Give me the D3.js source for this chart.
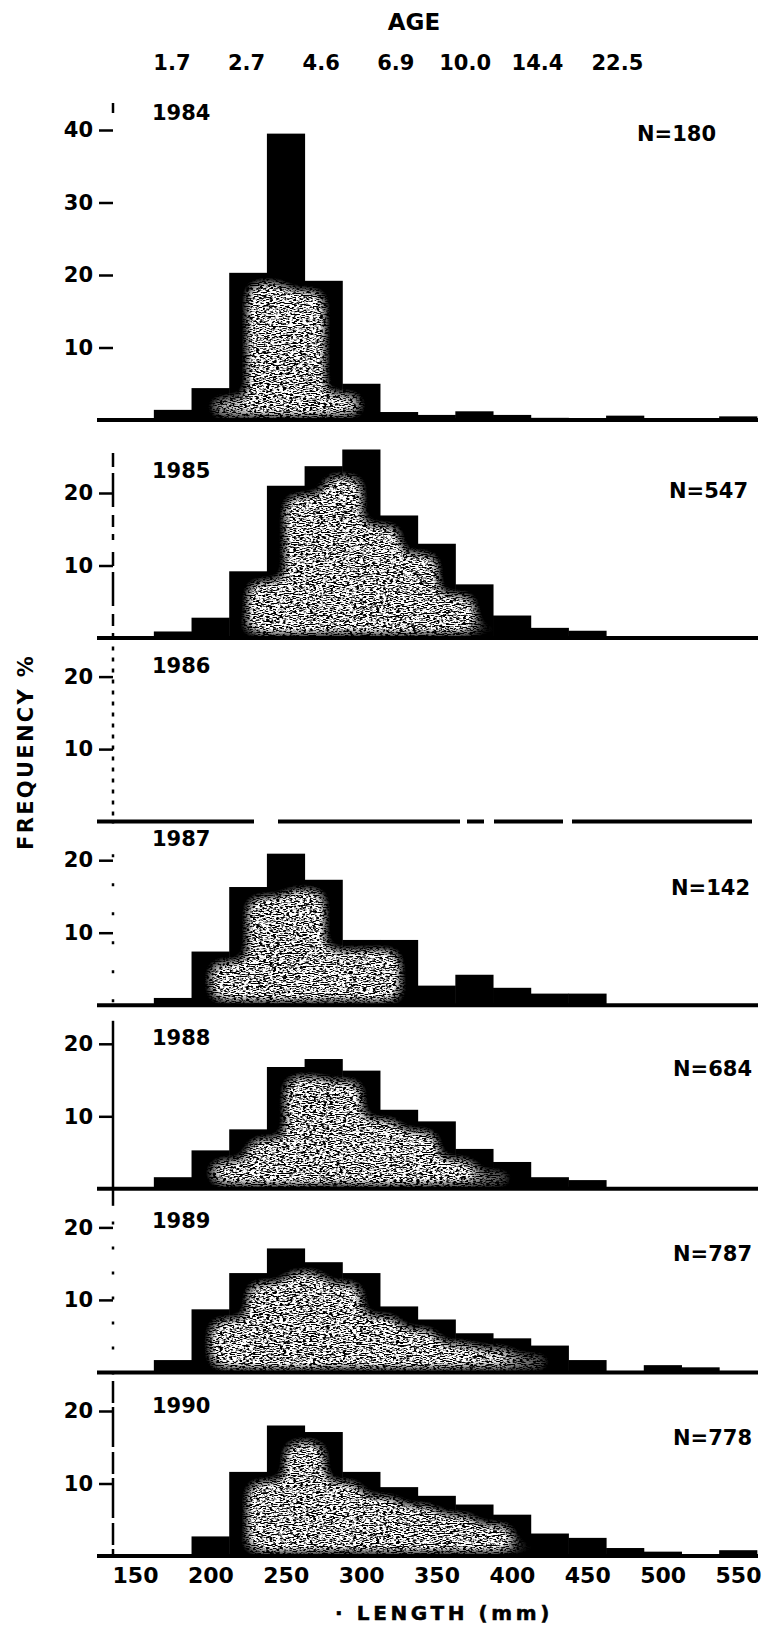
<!DOCTYPE html>
<html>
<head>
<meta charset="utf-8">
<script src="https://cdn.jsdelivr.net/npm/d3@7"></script>
<style>
  html, body { margin: 0; padding: 0; background: #fff; }
  svg { display: block; }
  text { font-family: "DejaVu Sans", "Liberation Sans", sans-serif; font-weight: bold; fill: #000; }
</style>
</head>
<body>
<svg id="chart" width="768" height="1625"></svg>
<script>
// ---- data -------------------------------------------------------------
// length classes (mm): 25 mm bins centred on these values
const lengthBins = [175, 200, 225, 250, 275, 300, 325, 350, 375, 400, 425, 450, 475, 500, 525, 550];
const years = ["1984", "1985", "1986", "1987", "1988", "1989", "1990"];
const sampleSizes = ["N=180", "N=547", "", "N=142", "N=684", "N=787", "N=778"];

// percentage frequency per length class
const freq1984 = [1.4, 4.4, 20.3, 39.5, 19.2, 5.0, 1.1, 0.7, 1.2, 0.7, 0.3, 0, 0.6, 0, 0.2, 0.5];
const freq1985 = [0.9, 2.8, 9.2, 21.0, 23.7, 26.0, 16.9, 13.0, 7.4, 3.1, 1.4, 1.0, 0, 0, 0, 0];
const freq1986 = [];
const freq1987 = [1.0, 7.4, 16.3, 20.9, 17.3, 9.0, 9.0, 2.7, 4.2, 2.4, 1.6, 1.6, 0, 0, 0, 0];
const freq1988 = [1.6, 5.3, 8.2, 16.8, 17.9, 16.3, 10.9, 9.3, 5.5, 3.7, 1.6, 1.2, 0.2, 0.2, 0.2, 0.2];
const freq1989 = [1.7, 8.7, 13.7, 17.1, 15.2, 13.7, 9.1, 7.3, 5.4, 4.7, 3.7, 1.7, 0.2, 1.0, 0.7, 0.2];
const freq1990 = [0, 2.7, 11.6, 18.0, 17.1, 11.6, 9.5, 8.3, 7.1, 5.7, 3.1, 2.5, 1.1, 0.6, 0.1, 0.8];
const freqByYear = [freq1984, freq1985, freq1986, freq1987, freq1988, freq1989, freq1990];

// age (years) corresponding to lengths along the top
const ageLabels = ["1.7", "2.7", "4.6", "6.9", "10.0", "14.4", "22.5"];
const ageAtLength = [174.5, 224, 273.5, 323, 369, 417, 470];

const lengthTicks = [150, 200, 250, 300, 350, 400, 450, 500, 550];
const freqTicks = [[10, 20, 30, 40], [10, 20], [10, 20], [10, 20], [10, 20], [10, 20], [10, 20]];

// ---- layout -----------------------------------------------------------
const binWidth = 25;
const axisX = 113;
const pxPerPercent = 7.25;
const panelBase = i => i === 0 ? 420 : 638 + (i - 1) * 183.6;
const yearLift = [308, 168, 156, 167, 151, 152, 151];
const countLift = [287, 148, 0, 118, 120, 119, 119];
const countRight = [716, 748, 750, 750, 752, 752, 752];
const axisOverhang = [27, 40, 30, 6, 23, 6, 30];
const axisDash = ["10 2000", "14 6 34 8 12 7 6 12", "4 7", "3 26", null, "3 22", "22 4 40 5"];
const baseDash = [null, null, "157 24 182 7 17 10 69 9 180", null, null, null, null];

const svg = d3.select("#chart");
const x = d3.scaleLinear().domain([150, 550]).range([135, 738]);

// speckled halftone inside the histogram outline
const defs = svg.append("defs");
const f = defs.append("filter").attr("id", "stipple")
  .attr("filterUnits", "userSpaceOnUse")
  .attr("x", 0).attr("y", 0).attr("width", 768).attr("height", 1625)
  .attr("color-interpolation-filters", "sRGB");
f.append("feMorphology").attr("in", "SourceAlpha").attr("operator", "erode")
  .attr("radius", "20 12").attr("result", "core");
f.append("feGaussianBlur").attr("in", "core").attr("stdDeviation", 9).attr("result", "coreBlur");
const ct = f.append("feComponentTransfer").attr("in", "coreBlur").attr("result", "coreMask");
ct.append("feFuncA").attr("type", "linear").attr("slope", 2.2).attr("intercept", -0.42);
f.append("feTurbulence").attr("type", "fractalNoise").attr("baseFrequency", "0.3 1.1")
  .attr("numOctaves", 2).attr("seed", 11).attr("result", "noise");
f.append("feColorMatrix").attr("in", "noise").attr("type", "matrix")
  .attr("values", "0 0 0 0 1  0 0 0 0 1  0 0 0 0 1  6 0 0 0 -2.3")
  .attr("result", "light");
f.append("feComposite").attr("in", "light").attr("in2", "coreMask")
  .attr("operator", "in").attr("result", "lightIn");
const merge = f.append("feMerge");
merge.append("feMergeNode").attr("in", "SourceGraphic");
merge.append("feMergeNode").attr("in", "lightIn");

// ---- top age scale ----------------------------------------------------
svg.append("text").attr("x", 414).attr("y", 30)
  .attr("text-anchor", "middle").attr("font-size", 23).text("AGE");
svg.append("g").selectAll("text").data(ageLabels).join("text")
  .attr("x", (d, i) => x(ageAtLength[i])).attr("y", 70)
  .attr("text-anchor", "middle").attr("font-size", 21).text(d => d);

// ---- panels -----------------------------------------------------------
years.forEach((yr, i) => {
  const base = panelBase(i);
  const y = d3.scaleLinear().domain([0, 10]).range([base, base - 10 * pxPerPercent]);
  const g = svg.append("g");
  const freqs = freqByYear[i];

  // bars (extended a little below the baseline, then clipped)
  defs.append("clipPath").attr("id", "clip" + i)
    .append("rect").attr("x", 0).attr("y", 0).attr("width", 768).attr("height", base + 1);
  g.append("g").attr("filter", "url(#stipple)").attr("clip-path", "url(#clip" + i + ")")
    .selectAll("rect").data(freqs.map((v, k) => ({ c: lengthBins[k], v })).filter(d => d.v > 0))
    .join("rect")
    .attr("x", d => x(d.c - binWidth / 2))
    .attr("width", d => x(d.c + binWidth / 2) - x(d.c - binWidth / 2) + 0.5)
    .attr("y", d => y(d.v))
    .attr("height", d => base - y(d.v) + 6)
    .attr("fill", "#000");

  // baseline
  g.append("line")
    .attr("x1", 97).attr("x2", 758).attr("y1", base).attr("y2", base)
    .attr("stroke", "#000").attr("stroke-width", 4)
    .attr("stroke-dasharray", baseDash[i]);

  // vertical axis line
  const ticks = freqTicks[i];
  const top = y(d3.max(ticks)) - axisOverhang[i];
  g.append("line")
    .attr("x1", axisX).attr("x2", axisX).attr("y1", top).attr("y2", i === 4 ? base + 17 : base + 2)
    .attr("stroke", "#000").attr("stroke-width", 2.5)
    .attr("stroke-dasharray", axisDash[i]);

  // ticks and labels
  const ax = g.append("g").attr("transform", `translate(${axisX},0)`)
    .call(d3.axisLeft(y).tickValues(ticks).tickSize(14).tickPadding(6).tickFormat(d3.format("d")));
  ax.select(".domain").remove();
  ax.selectAll(".tick line").attr("stroke-width", 2.5);
  ax.selectAll(".tick text").attr("font-size", 21);
  ax.attr("font-family", null).attr("font-size", null);

  // year and sample size
  g.append("text").attr("x", 152).attr("y", base - yearLift[i] + 7.6)
    .attr("font-size", 21).text(yr);
  if (sampleSizes[i]) {
    g.append("text").attr("x", countRight[i]).attr("y", base - countLift[i] + 7.6)
      .attr("text-anchor", "end").attr("font-size", 21).text(sampleSizes[i]);
  }
});

// ---- bottom length axis -----------------------------------------------
const bottomBase = panelBase(years.length - 1);
const xa = svg.append("g").attr("transform", `translate(0,${bottomBase})`)
  .call(d3.axisBottom(x).tickValues(lengthTicks).tickSize(0).tickPadding(11.5));
xa.select(".domain").remove();
xa.attr("font-family", null).attr("font-size", null);
xa.selectAll(".tick text").attr("font-size", 22);

svg.append("text").attr("x", 444).attr("y", 1619.5)
  .attr("text-anchor", "middle").attr("font-size", 20)
  .attr("font-weight", "normal").attr("letter-spacing", 3.6)
  .attr("stroke", "#000").attr("stroke-width", 0.5)
  .text("\u00b7 LENGTH (mm)");

svg.append("text")
  .attr("transform", "translate(33,752) rotate(-90)")
  .attr("text-anchor", "middle").attr("font-size", 21).attr("letter-spacing", 2.3)
  .text("FREQUENCY %");
</script>
</body>
</html>
